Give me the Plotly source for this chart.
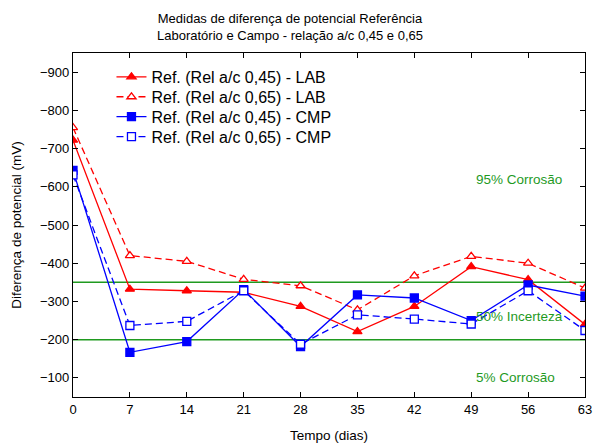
import plotly.graph_objects as go

# Tempo de ensaio (dias)
dias = [0, 7, 14, 21, 28, 35, 42, 49, 56, 63]

# Diferença de potencial (mV)
lab_045 = [-722, -332, -328, -324, -287, -221, -287, -391, -357, -240]
lab_065 = [-755, -420, -405, -358, -341, -278, -367, -418, -400, -335]
cmp_045 = [-643, -167, -195, -331, -182, -317, -309, -250, -343, -314]
cmp_065 = [-631, -237, -248, -328, -188, -265, -254, -241, -328, -224]

nomes = [
    "Ref. (Rel a/c 0,45) - LAB",
    "Ref. (Rel a/c 0,65) - LAB",
    "Ref. (Rel a/c 0,45) - CMP",
    "Ref. (Rel a/c 0,65) - CMP",
]

# Limites de probabilidade de corrosão (mV)
limites = [-350, -200]
faixas = ["95% Corrosão", "50% Incerteza", "5% Corrosão"]
faixas_y = [-618, -260, -100]
faixas_x = [54.9, 54.9, 54.5]

FONT = "Liberation Sans, Arial, sans-serif"
RED = "#ff0000"
BLUE = "#0000ff"
GREEN = "#1f9a1f"
DASH = "7px,4px"

fig = go.Figure()

series = [
    (lab_045, RED, "solid", "triangle-up", RED, 8),
    (lab_065, RED, DASH, "triangle-up", "white", 8),
    (cmp_045, BLUE, "solid", "square", BLUE, 8),
    (cmp_065, BLUE, DASH, "square", "white", 8),
]

legend_ids = ["legend", "legend2", "legend3", "legend4"]

for (vals, cor, dash, simb, fill, tam), nome, lid in zip(series, nomes, legend_ids):
    fig.add_trace(go.Scatter(
        x=dias, y=vals, name=nome, mode="lines+markers",
        line=dict(color=cor, width=1.3, dash=dash),
        marker=dict(symbol=simb, size=tam, color=fill,
                    line=dict(color=cor, width=1.3)),
        legend=lid,
    ))

for lim in limites:
    fig.add_hline(y=lim, line=dict(color=GREEN, width=1.5), layer="below")

for txt, fx, fy in zip(faixas, faixas_x, faixas_y):
    fig.add_annotation(x=fx, y=fy, text=txt, showarrow=False,
                       font=dict(family=FONT, size=13.5, color=GREEN))

W, H = 598, 446
ML, MR, MT, MB = 73, 6, 53, 48
plot_h = H - MT - MB
plot_w = W - ML - MR


def legend_box(row):
    yc = 77 + 20 * row
    return dict(
        x=(112 - ML) / plot_w, y=(H - MB - yc) / plot_h,
        xanchor="left", yanchor="middle",
        bgcolor="rgba(0,0,0,0)", borderwidth=0,
        font=dict(family=FONT, size=16, color="black"),
        itemwidth=30,
    )


fig.update_layout(
    width=W, height=H,
    margin=dict(l=ML, r=MR, t=MT, b=MB),
    paper_bgcolor="white", plot_bgcolor="white",
    font=dict(family=FONT, size=13, color="black"),
    title=dict(
        text="Medidas de diferença de potencial Referência<br>"
             "Laboratório e Campo - relação a/c 0,45 e 0,65",
        x=290 / W, xanchor="center", xref="container",
        y=1 - 23 / H, yanchor="top", yref="container",
        font=dict(family=FONT, size=13, color="black"),
    ),
    showlegend=True,
    legend=legend_box(0),
    legend2=legend_box(1),
    legend3=legend_box(2),
    legend4=legend_box(3),
)

fig.update_xaxes(
    range=[0, 63], tickvals=dias, ticktext=[str(d) for d in dias],
    showgrid=False, zeroline=False,
    showline=True, linecolor="black", linewidth=1.3, mirror="ticks",
    ticks="inside", ticklen=5, tickcolor="black", tickwidth=1,
    tickfont=dict(family=FONT, size=13), ticklabeloverflow="allow",
    title=dict(text="Tempo (dias)", font=dict(family=FONT, size=13.5), standoff=14),
)

fig.update_yaxes(
    range=[-50, -950], tickvals=[-900, -800, -700, -600, -500, -400, -300, -200, -100],
    showgrid=False, zeroline=False,
    showline=True, linecolor="black", linewidth=1.3, mirror="ticks",
    ticks="inside", ticklen=5, tickcolor="black", tickwidth=1,
    tickfont=dict(family=FONT, size=13),
    title=dict(text="Diferença de potencial (mV)", font=dict(family=FONT, size=13.5), standoff=15),
)

fig.write_html("out.html")
